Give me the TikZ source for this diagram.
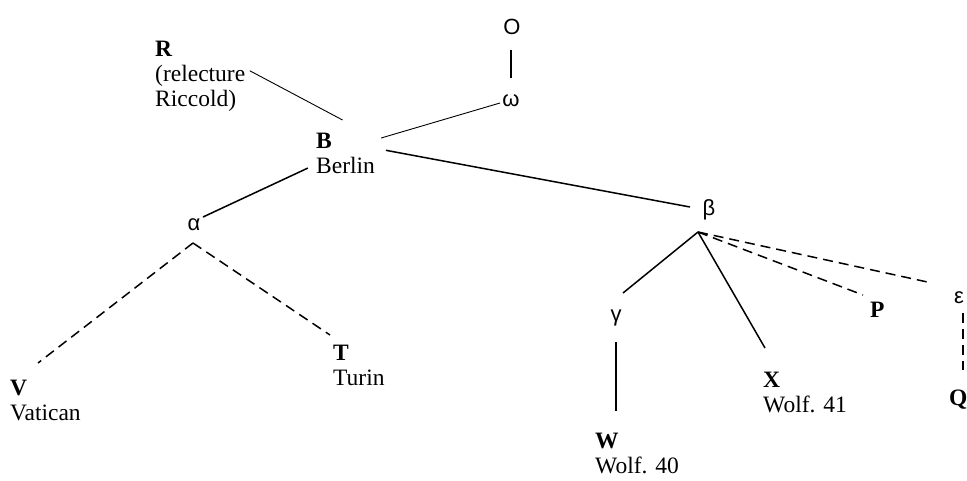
\documentclass[tikz,border=0pt]{standalone}
\usepackage{fontspec}
\setmainfont{Liberation Serif}
\newfontfamily\greekfont{Liberation Sans}
\usetikzlibrary{calc}

\begin{document}
\begin{tikzpicture}[x=1pt,y=-1pt,
     ms/.style = {anchor=north west, align=left, inner sep=0pt,
      font=\fontsize{23.5}{25}\selectfont},
     hyp/.style = {inner sep=0pt, font=\greekfont\fontsize{22}{24}\selectfont},
     link/.style = {draw, line width=1.5pt},
     thinlink/.style = {draw, line width=0.9pt},
     lost/.style = {draw, line width=1.5pt, dash pattern=on 10pt off 6pt}
    ]
    \path[use as bounding box, fill=white] (0,0) rectangle (967,480);
    % manuscripts
    \node [ms] (R) at (155,41) {\textbf{R}\\(relecture\\Riccold)};
    \node [ms] (B) at (316,133) {\textbf{B}\\Berlin};
    \node [ms] (V) at (10,380) {\textbf{V}\\Vatican};
    \node [ms] (T) at (333,345) {\textbf{T}\\Turin};
    \node [ms] (W) at (595,433) {\textbf{W}\\Wolf. 40};
    \node [ms] (X) at (763,372) {\textbf{X}\\Wolf. 41};
    \node [ms] (P) at (870,302) {\textbf{P}};
    \node [ms] (Q) at (949,390) {\textbf{Q}};
    % archetype and hyparchetypes
    \node [hyp] (O) at (512,27) {O};
    \node [hyp] (omega) at (511,101) {ω};
    \node [hyp] (alpha) at (194,225) {α};
    \node [hyp] (beta) at (709,210) {β};
    \node [hyp] (gamma) at (616,318) {γ};
    \node [hyp] (epsilon) at (959,298) {ε};

    \draw[link] ([shift={(-1,23)}]O.center) -- ([shift={(0,-23)}]omega.center);
    \draw[thinlink] ([shift={(-11,2)}]omega.center) -- ([shift={(6,5)}]B.north east);
    \draw[thinlink, shorten <=5pt] (R.10) -- ([shift={(-3,-13)}]B.north);
    \draw[link, shorten <=11pt] (B.10) -- ([shift={(-19,-3)}]beta.center);
    \draw[link, shorten <=9pt] (B.200) -- ([shift={(9,-8)}]alpha.center);
    \draw[lost] ([shift={(-1,18)}]alpha.center) -- ([shift={(28,-17)}]V.north west);
    \draw[lost] ([shift={(-1,18)}]alpha.center) -- ([shift={(-3,-10)}]T.north west);
    \draw[link] ([shift={(-11,22)}]beta.center) -- ([shift={(7,-25)}]gamma.center);
    \draw[link] ([shift={(0,24)}]gamma.center) -- ([shift={(21,-22)}]W.north west);
    \draw[link] ([shift={(-11,22)}]beta.center) -- ([shift={(2,-24)}]X.north west);
    \draw[lost] ([shift={(-11,22)}]beta.center) -- ([shift={(-7,-7)}]P.north west);
    \draw[lost] ([shift={(-11,22)}]beta.center) -- ([shift={(-27,-15)}]epsilon.center);
    \draw[lost] ([shift={(4,15)}]epsilon.center) -- ([shift={(14,-20)}]Q.north west);
\end{tikzpicture}
\end{document}
